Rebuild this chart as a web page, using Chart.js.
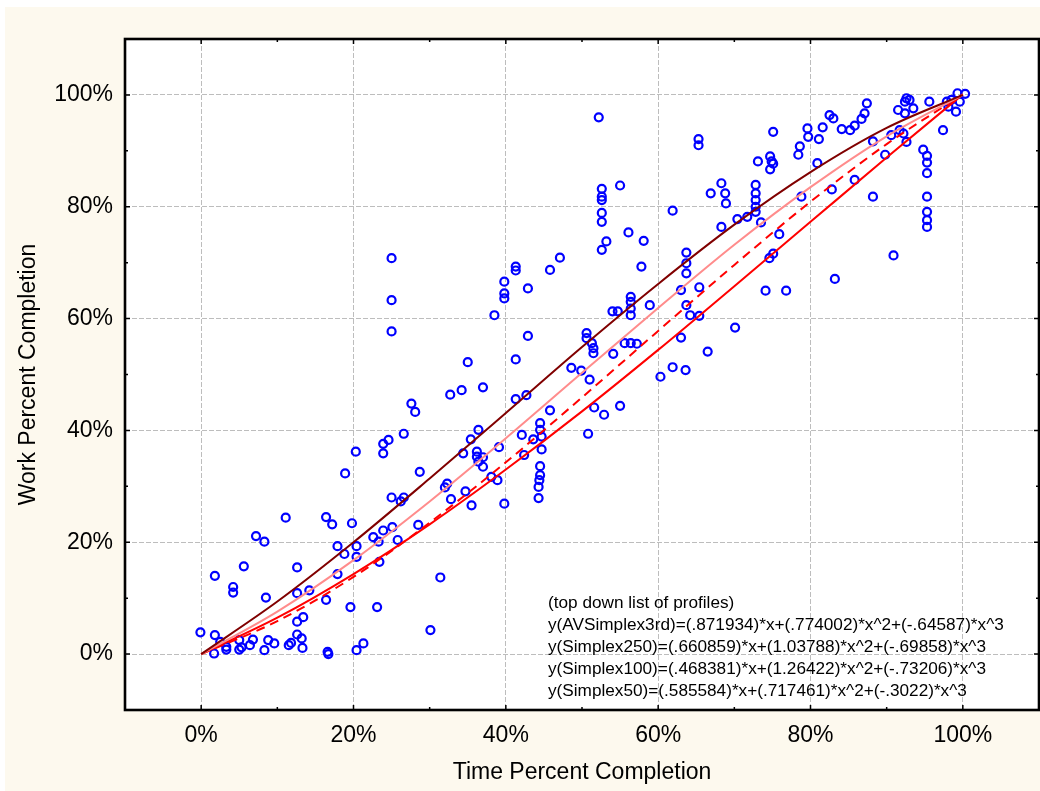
<!DOCTYPE html>
<html><head><meta charset="utf-8">
<script src="https://cdn.jsdelivr.net/npm/chart.js@4.4.1/dist/chart.umd.min.js"></script>
<style>html,body{margin:0;padding:0;background:#fff;}canvas{display:block;}</style>
</head><body>
<canvas id="c" width="1040" height="791"></canvas>
<script>
// ---------- data ----------
const tickValues = [0, 20, 40, 60, 80, 100];
const minorTickValues = [10, 30, 50, 70, 90];
const xTitle = 'Time Percent Completion';
const yTitle = 'Work Percent Completion';

const profileX     = [0, 10, 20, 30, 40, 50, 60, 70, 80, 90, 100];
const avSimplex3rd = [0, 9.4, 20.0, 31.4, 43.1, 54.9, 66.2, 76.8, 86.2, 94.1, 100.0];
const simplex250   = [0, 7.6, 16.8, 27.3, 38.6, 50.3, 61.9, 73.2, 83.5, 92.6, 100.0];
const simplex100   = [0, 5.9, 13.8, 23.5, 34.3, 45.9, 57.8, 69.6, 80.9, 91.2, 100.1];
const simplex50    = [0, 6.5, 14.3, 23.2, 33.0, 43.4, 54.4, 65.8, 77.3, 88.8, 100.1];

const timeX = [
 -0.1,1.8,1.7,3.3,3.3,2.5,5.0,5.0,5.3,6.4,6.8,8.3,8.8,9.6,11.5,11.8,12.6,13.2,13.3,12.6,13.4,16.6,16.7,19.6,23.1,20.4,21.3,
 26.6,24.6,23.9,23.9,20.3,18.9,28.7,25.0,26.6,26.2,28.5,11.1,16.4,17.2,19.8,7.2,8.3,23.9,25.1,22.6,23.3,25.8,17.9,18.8,20.4,20.4,5.6,1.8,12.6,17.9,4.2,4.2,8.5,12.6,14.2,16.4,23.4,
 25.0,25.0,25.0,27.6,28.1,
 34.4,35.4,36.4,36.2,36.2,36.4,37.0,37.0,39.1,42.1,43.6,44.5,44.7,44.7,42.4,32.3,32.0,32.8,34.7,35.5,38.1,38.9,39.8,44.5,44.5,44.4,44.3,44.3,50.8,31.4,30.1,
 56.1,53.2,52.6,58.1,57.8,47.1,45.8,41.3,41.3,39.8,39.8,39.8,42.9,38.5,42.9,41.3,35.0,32.7,34.2,37.0,41.3,42.7,63.7,63.7,63.7,63.0,65.4,58.9,56.4,56.4,56.4,56.4,54.0,54.7,63.7,64.2,65.4,50.6,50.6,51.3,51.5,51.5,55.6,56.4,57.2,54.1,63.0,66.5,48.6,49.9,51.0,60.3,61.9,63.6,45.8,44.5,51.6,52.9,55.0,
 52.2,65.3,65.3,52.6,52.6,52.6,55.0,52.6,52.6,61.9,66.9,
 75.1,73.1,74.7,74.9,75.1,74.7,68.3,68.8,68.9,72.8,72.8,72.8,72.8,72.8,70.4,71.7,73.5,68.3,78.6,78.4,79.6,79.7,81.1,81.6,82.5,83.0,84.1,85.2,85.8,86.7,87.1,87.4,80.9,78.8,82.8,85.8,88.2,88.2,89.8,90.6,91.7,91.5,92.4,92.6,93.0,92.4,93.5,92.2,92.6,95.6,94.8,95.3,95.3,95.3,95.3,95.3,95.3,95.3,97.4,99.3,100.3,99.6,99.1,98.1,97.9,98.5,
 75.9,75.1,74.6,74.1,76.8,83.2,90.9,70.1
];
const workY = [
 3.9,3.4,0.1,1.3,0.8,2.2,2.5,0.8,1.2,1.6,2.6,0.7,2.5,1.9,1.6,2.0,3.5,2.8,1.1,5.8,6.6,0.4,0.0,8.4,8.4,0.7,1.9,
 39.4,38.3,37.6,35.9,36.2,32.3,32.6,28.0,28.0,27.3,23.1,24.4,24.5,23.2,23.4,21.1,20.1,22.1,22.7,20.9,20.1,20.4,19.3,17.9,19.3,17.4,15.7,14.0,15.5,14.3,12.0,11.0,10.1,10.9,11.4,9.7,16.5,
 70.8,63.3,57.7,44.8,43.3,
 35.9,38.4,40.1,36.2,35.3,34.4,35.2,33.5,37.0,39.2,38.4,40.1,38.9,36.6,35.6,30.5,29.8,27.7,29.1,26.6,31.7,31.1,26.9,33.6,32.0,31.1,29.9,27.9,39.4,13.7,4.3,
 75.4,73.8,72.3,73.9,69.3,70.9,68.7,69.3,68.6,66.6,64.5,63.6,65.4,60.6,56.9,52.7,52.2,46.4,47.2,47.7,45.6,46.3,71.8,69.9,68.1,65.1,65.6,62.4,63.9,63.0,61.8,60.6,61.3,61.3,62.4,60.6,60.5,57.4,56.5,55.6,54.7,53.8,55.6,55.6,55.5,53.7,56.6,54.1,51.2,50.7,49.1,49.6,51.3,50.8,43.6,41.3,44.1,42.8,44.4,
 96.0,92.1,91.0,83.2,81.8,81.2,83.8,78.9,77.3,79.3,82.4,
 93.4,88.1,89.0,88.1,87.7,86.7,84.2,82.4,80.6,83.9,82.4,81.2,80.0,79.1,77.8,78.2,77.2,76.4,90.8,89.3,94.0,92.5,92.1,94.2,96.4,95.8,93.9,93.7,94.5,95.7,96.7,98.5,87.8,81.8,83.1,84.8,91.7,81.8,89.3,92.8,93.7,97.3,98.8,99.4,99.1,96.7,97.6,93.1,91.6,98.8,90.2,89.1,87.9,86.0,81.8,79.1,77.6,76.4,93.7,100.3,100.2,98.8,97.0,97.9,98.8,99.1,
 75.1,71.6,70.8,65.0,65.0,67.1,71.3,58.4
];

const annotationLines = [
 '(top down list of profiles)',
 'y(AVSimplex3rd)=(.871934)*x+(.774002)*x^2+(-.64587)*x^3',
 'y(Simplex250)=(.660859)*x+(1.03788)*x^2+(-.69858)*x^3',
 'y(Simplex100)=(.468381)*x+(1.26422)*x^2+(-.73206)*x^3',
 'y(Simplex50)=(.585584)*x+(.717461)*x^2+(-.3022)*x^3'
];

// ---------- chart ----------
const FONT = '"Liberation Sans", Arial, sans-serif';
const pts = (xs, ys) => xs.map((v, i) => ({x: v, y: ys[i]}));

const decor = {
  id: 'decor',
  beforeDraw(chart) {
    const {ctx, chartArea: a} = chart;
    ctx.save();
    ctx.fillStyle = '#ffffff';
    ctx.fillRect(0, 0, chart.width, chart.height);
    ctx.fillStyle = '#fdf9ee';
    ctx.fillRect(5, 7, chart.width - 5, chart.height - 7);
    ctx.fillStyle = '#ffffff';
    ctx.fillRect(a.left, a.top, a.right - a.left, a.bottom - a.top);
    ctx.restore();
  },
  afterDatasetsDraw(chart) {
    const {ctx, chartArea: a, scales: {x, y}} = chart;
    ctx.save();
    ctx.strokeStyle = '#000';
    ctx.lineWidth = 1.5;
    const drawTicks = (vals, len) => {
      vals.forEach(v => {
        const px = x.getPixelForValue(v);
        ctx.beginPath();
        ctx.moveTo(px, a.top); ctx.lineTo(px, a.top + len);
        ctx.moveTo(px, a.bottom); ctx.lineTo(px, a.bottom - len);
        ctx.stroke();
        const py = y.getPixelForValue(v);
        ctx.beginPath();
        ctx.moveTo(a.left, py); ctx.lineTo(a.left + len, py);
        ctx.moveTo(a.right, py); ctx.lineTo(a.right - len, py);
        ctx.stroke();
      });
    };
    drawTicks(tickValues, 5);
    drawTicks(minorTickValues, 3);
    ctx.lineWidth = 2.6;
    ctx.strokeRect(a.left, a.top, a.right - a.left, a.bottom - a.top);

    ctx.fillStyle = '#000';
    ctx.font = '17.2px ' + FONT;
    ctx.textBaseline = 'middle';
    ctx.textAlign = 'left';
    annotationLines.forEach((t, i) => {
      ctx.fillText(t, a.left + 423, a.bottom - 107 + i * 22);
    });
    ctx.restore();
  }
};

const axisCommon = {
  type: 'linear',
  min: -10,
  max: 110,
  afterBuildTicks: s => { s.ticks = tickValues.map(v => ({value: v})); },
  grid: { color: '#bdbdbd', lineWidth: 1, drawTicks: false },
  border: { display: false, dash: [5, 2] }
};

new Chart(document.getElementById('c'), {
  type: 'scatter',
  data: {
    datasets: [
      { label: 'AVSimplex3rd', data: pts(profileX, avSimplex3rd), showLine: true, pointRadius: 0,
        borderColor: '#800000', borderWidth: 2, cubicInterpolationMode: 'monotone', order: 1 },
      { label: 'Simplex250', data: pts(profileX, simplex250), showLine: true, pointRadius: 0,
        borderColor: '#ff8c8c', borderWidth: 2, cubicInterpolationMode: 'monotone', order: 2 },
      { label: 'Simplex100', data: pts(profileX, simplex100), showLine: true, pointRadius: 0,
        borderColor: '#ff0000', borderWidth: 2, borderDash: [9, 6], cubicInterpolationMode: 'monotone', order: 3 },
      { label: 'Simplex50', data: pts(profileX, simplex50), showLine: true, pointRadius: 0,
        borderColor: '#ff0000', borderWidth: 2, cubicInterpolationMode: 'monotone', order: 4 },
      { label: 'observations', data: pts(timeX, workY), pointStyle: 'circle', pointRadius: 4,
        pointBorderWidth: 2.2, borderColor: '#0000ff', pointBorderColor: '#0000ff',
        backgroundColor: 'rgba(0,0,0,0)', pointBackgroundColor: 'rgba(0,0,0,0)', order: 10 }
    ]
  },
  options: {
    responsive: false,
    animation: false,
    devicePixelRatio: 1,
    layout: { autoPadding: false, padding: { left: 0, right: 1, top: 39, bottom: 0 } },
    plugins: { legend: { display: false }, tooltip: { enabled: false } },
    scales: {
      x: Object.assign({}, axisCommon, {
        position: 'bottom',
        afterFit: s => { s.height = 81; s.paddingLeft = 0; s.paddingRight = 0; },
        ticks: { callback: v => v + '%', font: { family: FONT, size: 23 }, color: '#000',
                 padding: 12, maxRotation: 0, autoSkip: false },
        title: { display: true, text: xTitle, font: { family: FONT, size: 23 }, color: '#000',
                 padding: { top: 0, bottom: 5 } }
      }),
      y: Object.assign({}, axisCommon, {
        position: 'left',
        afterFit: s => { s.width = 125; s.paddingTop = 0; s.paddingBottom = 0; },
        ticks: { callback: v => v + '%', font: { family: FONT, size: 23 }, color: '#000',
                 padding: 12, autoSkip: false },
        title: { display: true, text: yTitle, font: { family: FONT, size: 23 }, color: '#000',
                 padding: { top: 15, bottom: 0 } }
      })
    }
  },
  plugins: [decor]
});
</script>
</body></html>
